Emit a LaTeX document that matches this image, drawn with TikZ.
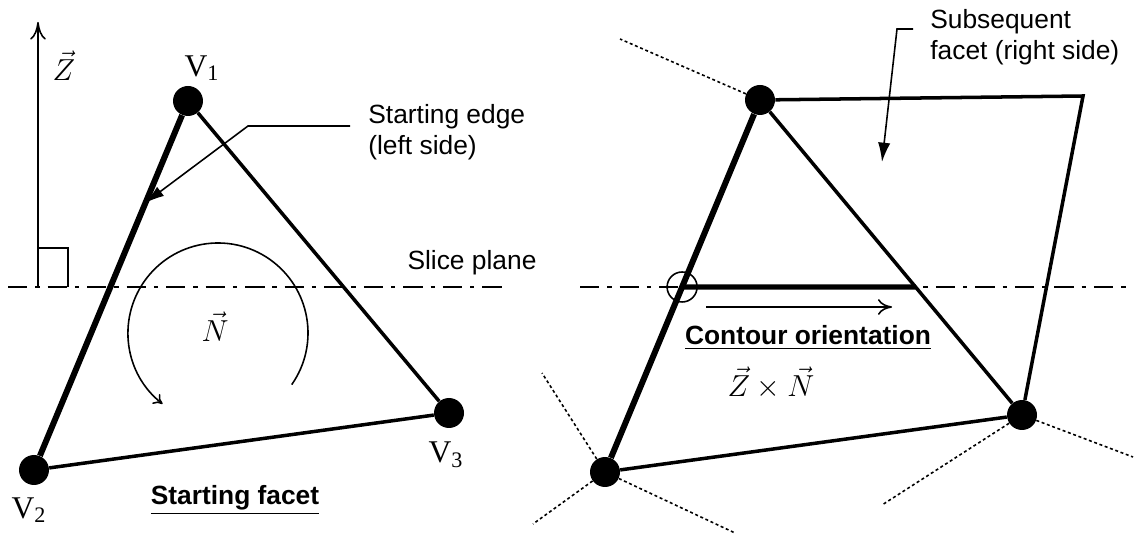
\documentclass[tikz,border=0pt]{standalone}
\usepackage{amsmath}
\usepackage{amssymb}
\usepackage{fontspec}
\setmainfont{Liberation Serif}
\setsansfont{Liberation Sans}
\usepackage{tikz}
\usetikzlibrary{arrows.meta}

\begin{document}
\begin{tikzpicture}[x=0.02cm,y=0.02cm,
vdot/.style={circle,fill=black,minimum size=0.6cm,inner sep=0pt},
fedge/.style={line width=2pt},
sedge/.style={line width=3.4pt},
thinl/.style={line width=0.9pt},
slice/.style={line width=1.3pt,dash pattern=on 11pt off 4.5pt on 2.5pt off 4.5pt},
nbr/.style={line width=0.9pt,dash pattern=on 1.7pt off 1.5pt},
lbl/.style={font=\fontsize{15}{17.6}\selectfont\sffamily,align=left,inner sep=0pt},
vlbl/.style={font=\fontsize{18}{20}\selectfont,inner sep=0pt},
mlbl/.style={font=\fontsize{17}{20}\selectfont,inner sep=0pt}]
\useasboundingbox (0,0) rectangle (1139,537);

\coordinate (zb) at (38,250);
\coordinate (zt) at (38,515);
\coordinate (sl1) at (8,250);
\coordinate (sl2) at (503,250);
\coordinate (se1) at (350,411);
\coordinate (se2) at (248,411);
\coordinate (se3) at (145,334);
\coordinate (nc) at (218,204);
\node[vdot] (v1) at (188,436) {};
\node[vdot] (v2) at (34,67) {};
\node[vdot] (v3) at (449,124) {};

\draw[slice] (sl1)--(sl2);
\draw[thinl,-{To[length=10pt,width=9pt]}] (zb)--(zt);
\draw[thinl] (38,289) -| (68,250);
\draw[sedge] (v1)--(v2);
\draw[fedge] (v1)--(v3);
\draw[fedge] (v2)--(v3);
\draw[thinl,-{Latex[length=11pt,width=6.5pt]}] (se1)--(se2)--(se3);
\draw[thinl,-{To[length=5pt,width=7pt]}] (nc) ++(-35:90)
  arc[start angle=-35,end angle=232,radius=90];

\node[mlbl] (zl) at (64,471) {$\vec{Z}$};
\node[mlbl] (nl) at (215,210) {$\vec{N}$};
\node[vlbl] (v1l) at (202,469) {V\textsubscript{1}};
\node[vlbl] (v2l) at (29,27) {V\textsubscript{2}};
\node[vlbl] (v3l) at (446,82) {V\textsubscript{3}};
\node[lbl,anchor=west] (setxt) at (368,405) {Starting edge\\(left side)};
\node[lbl] (sptxt) at (472,274) {Slice plane};
\node[lbl,font=\fontsize{15}{17.6}\selectfont\sffamily\bfseries] (sftxt) at (235,37) {\underline{Starting facet}};

\coordinate (sr1) at (580,250);
\coordinate (sr2) at (1133,250);
\coordinate (rc) at (1083,441);
\coordinate (ca1) at (706,230);
\coordinate (ca2) at (892,230);
\coordinate (sf1) at (913,508);
\coordinate (sf2) at (897,508);
\coordinate (sf3) at (882,375);
\node[vdot] (r1) at (760,437) {};
\node[vdot] (r2) at (605,65) {};
\node[vdot] (r3) at (1022,122) {};
\coordinate (p) at (intersection of r1--r2 and sr1--sr2);
\coordinate (q) at (intersection of r1--r3 and sr1--sr2);

\draw[nbr] (r1)--(620,498);
\draw[nbr] (r2)--(542,164);
\draw[nbr] (r2)--(533,13);
\draw[nbr] (r2)--(735,4);
\draw[nbr] (r3)--(882,32);
\draw[nbr] (r3)--(1133,80);
\draw[slice] (sr1)--(sr2);
\draw[sedge] (r1)--(r2);
\draw[fedge] (r1)--(r3);
\draw[fedge] (r2)--(r3);
\draw[fedge] (r1)--(rc)--(r3);
\draw[line width=3pt] (p)--(q);
\draw[thinl] (p) circle (15);
\draw[thinl,-{To[length=8pt,width=9pt]}] (ca1)--(ca2);
\draw[thinl,-{Latex[length=11pt,width=7pt]}] (sf1)--(sf2)--(sf3);

\node[lbl,anchor=west] (sstxt) at (930,500) {Subsequent\\facet (right side)};
\node[lbl,font=\fontsize{15}{17.6}\selectfont\sffamily\bfseries] (cotxt) at (808,199) {\underline{Contour orientation}};
\node[mlbl] (zn) at (771,154) {$\vec{Z}\times\vec{N}$};
\end{tikzpicture}
\end{document}
